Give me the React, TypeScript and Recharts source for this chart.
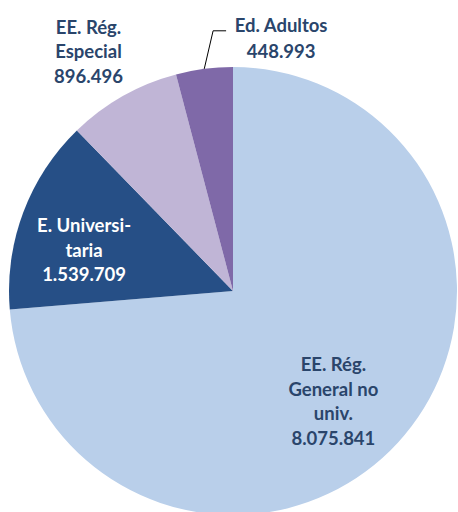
import { Cell, Pie, PieChart } from 'recharts';

const categories = ['EE. Rég. General no univ.', 'E. Universitaria', 'EE. Rég. Especial', 'Ed. Adultos'];
const values = [8075841, 1539709, 896496, 448993];
const labelLines = [
  ['EE. Rég.', 'General no', 'univ.', '8.075.841'],
  ['E. Universi-', 'taria', '1.539.709'],
  ['EE. Rég.', 'Especial', '896.496'],
  ['Ed. Adultos', '448.993'],
];
const colors = ['#b9cfea', '#264f86', '#c0b5d6', '#7f69a8'];
const textColors = ['#2a456b', '#ffffff', '#2a456b', '#2a456b'];

const data = categories.map((name, i) => ({ name, value: values[i] }));

const RAD = Math.PI / 180;
// radius factor / angle shift for each label block
const labelPlace = [
  { rf: 0.665, shift: -5 },
  { rf: 0.69, shift: 5 },
  { rf: 1.25, shift: 1.6 },
];
const LINE_H = 24.5;

const polar = (cx: number, cy: number, r: number, deg: number) => ({
  x: cx + r * Math.cos(-deg * RAD),
  y: cy + r * Math.sin(-deg * RAD),
});

function renderLabel(props: any) {
  const { cx, cy, midAngle, outerRadius, index } = props;
  const lines = labelLines[index];
  const style = { fontFamily: 'Lato, sans-serif', fontWeight: 700, fontSize: 18.5 };

  if (index === 3) {
    const p0 = polar(cx, cy, outerRadius, midAngle);
    const elbow = polar(cx, cy, outerRadius * 1.165, midAngle - 3);
    const tx = elbow.x + 68;
    return (
      <g>
        <polyline
          points={`${p0.x},${p0.y} ${elbow.x},${elbow.y} ${elbow.x + 13},${elbow.y}`}
          fill="none"
          stroke="#000"
          strokeWidth={1}
        />
        {lines.map((t, i) => (
          <text
            key={i}
            x={tx}
            y={elbow.y - 6 + i * 26}
            textAnchor="middle"
            dominantBaseline="central"
            fill={textColors[index]}
            style={style}
          >
            {t}
          </text>
        ))}
      </g>
    );
  }

  const { rf, shift } = labelPlace[index];
  const c = polar(cx, cy, outerRadius * rf, midAngle + shift);
  const top = c.y - ((lines.length - 1) * LINE_H) / 2;
  return (
    <g>
      {lines.map((t, i) => (
        <text
          key={i}
          x={c.x}
          y={top + i * LINE_H}
          textAnchor="middle"
          dominantBaseline="central"
          fill={textColors[index]}
          style={style}
        >
          {t}
        </text>
      ))}
    </g>
  );
}

export default function App() {
  return (
    <div style={{ position: 'absolute', left: 0, top: 0, width: 458, height: 512, background: '#fff' }}>
      <PieChart width={458} height={512} margin={{ top: 0, right: 0, bottom: 0, left: 0 }}>
        <Pie
          data={data}
          dataKey="value"
          nameKey="name"
          cx={233}
          cy={291}
          outerRadius={224}
          startAngle={90}
          endAngle={-270}
          stroke="none"
          label={renderLabel}
          labelLine={false}
          isAnimationActive={false}
        >
          {data.map((_, i) => (
            <Cell key={i} fill={colors[i]} />
          ))}
        </Pie>
      </PieChart>
    </div>
  );
}
